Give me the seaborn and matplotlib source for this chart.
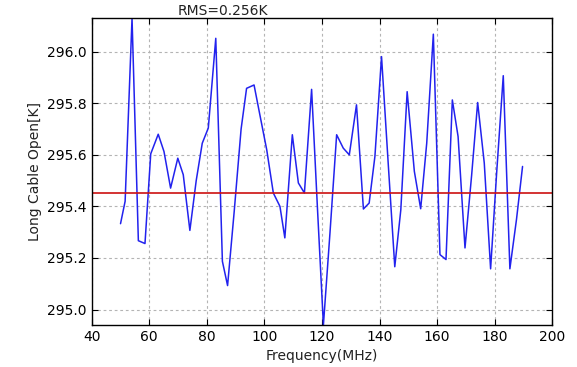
import numpy as np
import pandas as pd
import seaborn as sns
import matplotlib
matplotlib.use("Agg")
import matplotlib.pyplot as plt

# values
freq = [50.0, 51.6, 54.0, 56.2, 58.5, 60.5, 63.1, 65.1, 67.4, 69.9, 71.8, 74.1,
        76.3, 78.4, 80.5, 83.1, 85.4, 87.2, 89.5, 91.9, 93.8, 96.4, 98.6, 100.8,
        103.1, 105.4, 107.1, 109.7, 111.8, 113.9, 116.4, 118.4, 120.5, 122.8,
        125.1, 127.4, 129.5, 132.0, 134.4, 136.4, 138.4, 140.7, 143.0, 145.3,
        147.4, 149.6, 152.1, 154.3, 156.4, 158.7, 161.0, 163.1, 165.3, 167.3,
        169.7, 172.0, 174.1, 176.4, 178.6, 180.7, 183.0, 185.3, 187.6, 189.7]
temp = [295.333, 295.42, 296.13, 295.267, 295.256, 295.604, 295.68, 295.613,
        295.471, 295.587, 295.523, 295.307, 295.50, 295.645, 295.704, 296.052,
        295.187, 295.093, 295.38, 295.70, 295.858, 295.871, 295.745, 295.62,
        295.452, 295.40, 295.278, 295.678, 295.491, 295.452, 295.854, 295.40,
        294.94, 295.30, 295.678, 295.626, 295.60, 295.794, 295.39, 295.413,
        295.594, 295.981, 295.57, 295.166, 295.387, 295.845, 295.536, 295.391,
        295.645, 296.068, 295.213, 295.194, 295.813, 295.671, 295.239, 295.52,
        295.803, 295.568, 295.158, 295.53, 295.907, 295.158, 295.35, 295.555]
mean_level = 295.452
rms_text = "RMS=0.256K"

data = pd.DataFrame({"Frequency": freq, "Temp": temp})

sns.set_style("white")
plt.rcParams.update({
    "font.family": ["DejaVu Sans"],
    "font.size": 10,
    "xtick.direction": "in",
    "ytick.direction": "in",
    "xtick.top": True,
    "ytick.right": True,
    "xtick.bottom": True,
    "ytick.left": True,
    "xtick.major.size": 4,
    "ytick.major.size": 4,
    "axes.edgecolor": "black",
    "axes.linewidth": 1.0,
    "xtick.color": "black",
    "ytick.color": "black",
    "text.color": "#222222",
    "axes.labelcolor": "#222222",
})

fig = plt.figure(figsize=(5.77, 3.67), dpi=100)
ax = fig.add_axes([0.159, 0.1144, 0.798, 0.836])

sns.lineplot(x="Frequency", y="Temp", data=data, color="#2222ee",
             linewidth=1.1, estimator=None, ax=ax)
ax.axhline(mean_level, color="#cc1111", linewidth=1.2)

ax.set_xlim(40, 200)
ax.set_ylim(min(temp), max(temp))
ax.set_xticks(np.arange(40, 201, 20))
ax.set_yticks([295.0, 295.2, 295.4, 295.6, 295.8, 296.0])
ax.set_yticklabels(["295.0", "295.2", "295.4", "295.6", "295.8", "296.0"])
ax.grid(True, color="#b4b4b4", linestyle=(0, (2.5, 2.5)), linewidth=0.8)

ax.set_xlabel("Frequency(MHz)")
ax.set_ylabel("Long Cable Open[K]")
ax.text(70, max(temp), rms_text, ha="left", va="bottom", fontsize=10)

fig.savefig("out.png", dpi=100)
